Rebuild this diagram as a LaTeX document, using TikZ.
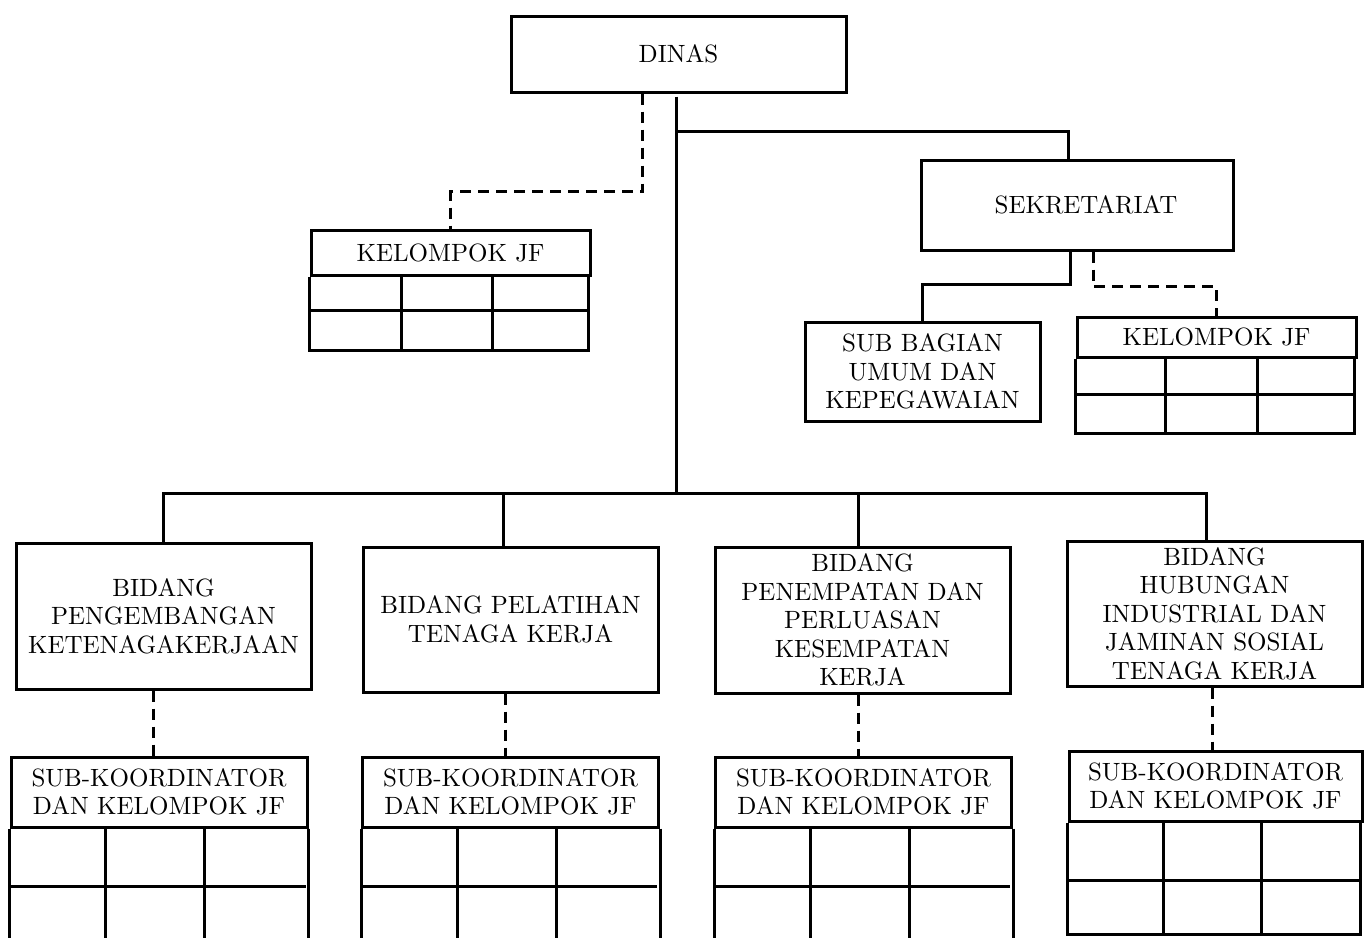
\documentclass[tikz,border=0pt]{standalone}
\usepackage{fontspec}
\setmainfont{lmroman10-regular}[Extension=.otf]
\usepackage{tikz}
\usetikzlibrary{positioning}

\begin{document}
\begin{tikzpicture}[x=1pt,y=-1pt,
  box/.style={draw,line width=3pt,align=center,inner sep=0pt,
    font=\fontsize{25}{28.5}\selectfont},
  ln/.style={line width=3pt},
  dsh/.style={line width=3pt,dash pattern=on 11pt off 7pt}]
  \useasboundingbox (0,0) rectangle (1372,937);
  %% top level
  \node[box,minimum width=335pt,minimum height=76pt] (dinas) at (678.5,54) {DINAS};
  \node[box,minimum width=312pt,minimum height=90pt] (sekr) at (1077,205) {\hspace*{18pt}SEKRETARIAT};
  \node[box,minimum width=235pt,minimum height=99pt] (sbu) at (922.5,371.5)
    {SUB BAGIAN\\UMUM DAN\\KEPEGAWAIAN};
  % kelompok JF under dinas
  \node[box,minimum width=279pt,minimum height=45pt] (kjf1) at (450.5,252.5) {KELOMPOK JF};
  \draw[ln] (kjf1.south west) -- ++(0,74) -- ++(279,0) -- ++(0,-74);
  \draw[ln] (kjf1.south west) ++(0,34) -- ++(279,0);
  \draw[ln] (kjf1.south west) ++(92,0) -- ++(0,74);
  \draw[ln] (kjf1.south west) ++(183,0) -- ++(0,74);
  % kelompok JF under sekretariat
  \node[box,minimum width=279pt,minimum height=40pt] (kjf2) at (1216.5,337) {KELOMPOK JF};
  \draw[ln] (kjf2.south west) -- ++(0,75) -- ++(279,0) -- ++(0,-75);
  \draw[ln] (kjf2.south west) ++(0,36) -- ++(279,0);
  \draw[ln] (kjf2.south west) ++(90,0) -- ++(0,75);
  \draw[ln] (kjf2.south west) ++(182,0) -- ++(0,75);
  %% bidang
  \node[box,minimum width=295pt,minimum height=146pt] (b1) at (163.5,616)
    {BIDANG\\PENGEMBANGAN\\KETENAGAKERJAAN};
  \node[box,minimum width=295pt,minimum height=145pt] (b2) at (510.5,619.5)
    {BIDANG PELATIHAN\\TENAGA KERJA};
  \node[box,minimum width=295pt,minimum height=146pt] (b3) at (862.5,620)
    {BIDANG\\PENEMPATAN DAN\\PERLUASAN\\KESEMPATAN\\KERJA};
  \node[box,minimum width=295pt,minimum height=145pt] (b4) at (1214.5,613.5)
    {BIDANG\\HUBUNGAN\\INDUSTRIAL DAN\\JAMINAN SOSIAL\\TENAGA KERJA};
  %% sub-koordinator (open at the page edge)
  \foreach \n/\cx in {1/159,2/510.5,3/863.5}{
    \node[box,minimum width=296pt,minimum height=70pt] (s\n) at (\cx,792)
      {SUB-KOORDINATOR\\DAN KELOMPOK JF};
    \draw[ln] (s\n.south west) -- ++(0,115);
    \draw[ln] (s\n.south east) -- ++(0,115);
    \draw[ln] (s\n.south west) ++(0,58) -- ++(296,0);
    \draw[ln] (s\n.south west) ++(96,0) -- ++(0,115);
    \draw[ln] (s\n.south west) ++(195,0) -- ++(0,115);
  }
  \node[box,minimum width=293pt,minimum height=70pt] (s4) at (1215.5,786)
    {SUB-KOORDINATOR\\DAN KELOMPOK JF};
  \draw[ln] (s4.south west) -- ++(0,112) -- ++(293,0) -- ++(0,-112);
  \draw[ln] (s4.south west) ++(0,58) -- ++(293,0);
  \draw[ln] (s4.south west) ++(96,0) -- ++(0,112);
  \draw[ln] (s4.south west) ++(194,0) -- ++(0,112);
  %% connectors
  \coordinate (hub) at ([xshift=-2.5pt]dinas.south |- 0,493);
  \draw[ln] ([xshift=-2.5pt,yshift=-3pt]dinas.south) -- (hub);
  \draw[ln] ([xshift=-2.5pt]dinas.south) ++(0,38) -| ([xshift=-9pt]sekr.north);
  \draw[dsh] ([xshift=-36pt]dinas.south) -- ++(0,98) -| (kjf1.north);
  \draw[ln] ([xshift=-7pt]sekr.south) -- ++(0,33) -| (sbu.north);
  \draw[dsh] ([xshift=16pt]sekr.south) -- ++(0,35) -| (kjf2.north);
  \draw[ln] (b1.north) -- (b1.north |- hub) -- ([xshift=-8pt]b4.north |- hub)
    -- ([xshift=-8pt]b4.north);
  \draw[ln] ([xshift=-7pt]b2.north) -- ([xshift=-7pt]b2.north |- hub);
  \draw[ln] ([xshift=-4pt]b3.north) -- ([xshift=-4pt]b3.north |- hub);
  % dashed to sub-koordinator
  \draw[dsh] ([xshift=-10pt]b1.south) -- ([xshift=-10pt]b1.south |- s1.north);
  \draw[dsh] ([xshift=-5pt]b2.south) -- ([xshift=-5pt]b2.south |- s2.north);
  \draw[dsh] ([xshift=-4pt]b3.south) -- ([xshift=-4pt]b3.south |- s3.north);
  \draw[dsh] ([xshift=-2pt]b4.south) -- ([xshift=-2pt]b4.south |- s4.north);
\end{tikzpicture}
\end{document}
